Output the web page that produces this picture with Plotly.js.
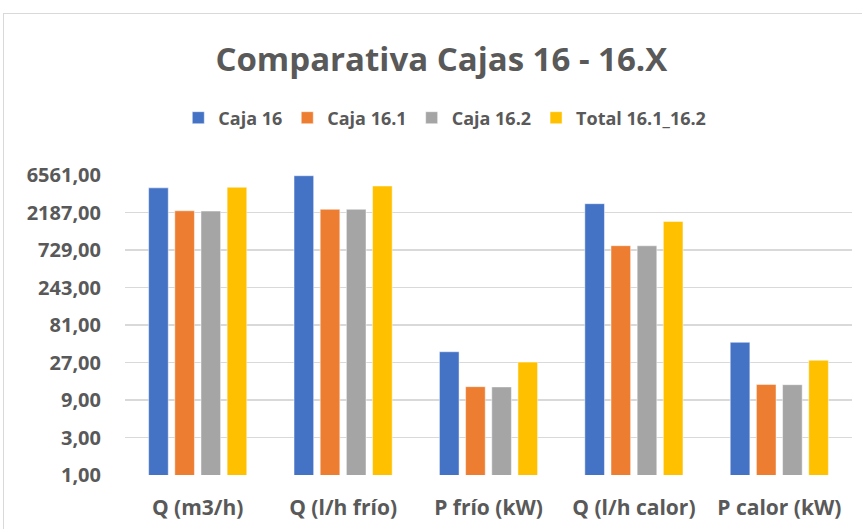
<!DOCTYPE html>
<html>
<head>
<meta charset="utf-8">
<script src="https://cdn.plot.ly/plotly-3.0.1.min.js"></script>
<style>
  html, body { margin: 0; padding: 0; background: #fff; }
  #frame { position: absolute; left: 3px; top: 13px; width: 900px; height: 600px; border: 1.5px solid #d9d9d9; }
  #chart { position: absolute; left: 0; top: 0; width: 862px; height: 529px; }
</style>
</head>
<body>
<div id="frame"></div>
<div id="chart"></div>
<script>
const categories = ["Q (m3/h)", "Q (l/h frío)", "P frío (kW)", "Q (l/h calor)", "P calor (kW)"];
const caja16   = [4500, 6420, 37.0, 2830, 48.8];
const caja161  = [2300, 2400, 13.3, 827, 14.2];
const caja162  = [2280, 2400, 13.2, 825, 14.1];
const total    = [4580, 4750, 27.3, 1680, 28.8];
const seriesNames = ["Caja 16", "Caja 16.1", "Caja 16.2", "Total 16.1_16.2"];
const colors = ["#4472C4", "#ED7D31", "#A5A5A5", "#FFC000"];
const tickVals = [1, 3, 9, 27, 81, 243, 729, 2187, 6561];
const tickText = ["1,00", "3,00", "9,00", "27,00", "81,00", "243,00", "729,00", "2187,00", "6561,00"];

const FONT = "'Open Sans', Lato, sans-serif";
const series = [caja16, caja161, caja162, total];
const data = series.map((vals, i) => ({
  type: "bar",
  name: seriesNames[i],
  x: categories,
  y: vals,
  marker: { color: colors[i], line: { color: "rgba(255,255,255,0.6)", width: 0.8 } },
  hoverinfo: "skip"
}));

const layout = {
  width: 862, height: 529,
  paper_bgcolor: "rgba(0,0,0,0)",
  plot_bgcolor: "rgba(0,0,0,0)",
  margin: { l: 125, r: 10, t: 175, b: 54 },
  barmode: "group",
  bargap: 0.28,
  bargroupgap: 0.25,
  font: { family: FONT, color: "#595959" },
  title: {
    text: "<b>Comparativa Cajas 16 - 16.X</b>",
    font: { family: FONT, size: 33, color: "#595959" },
    x: 0.512, xanchor: "center",
    y: 1 - 59 / 529, yanchor: "middle", yref: "container"
  },
  legend: {
    orientation: "h",
    x: 0.516, xanchor: "center", xref: "container",
    y: 1 - 118 / 529, yanchor: "middle", yref: "container",
    font: { family: FONT, size: 18, color: "#595959", weight: "bold" },
    itemwidth: 30,
    traceorder: "normal"
  },
  xaxis: {
    type: "category",
    showgrid: false,
    showline: false,
    zeroline: false,
    ticks: "",
    ticklabelstandoff: 18,
    tickfont: { family: FONT, size: 21, color: "#595959", weight: "bold" }
  },
  yaxis: {
    type: "log",
    range: [0, Math.log10(6561)],
    tickvals: tickVals,
    ticktext: tickText,
    showgrid: true,
    gridcolor: "#d9d9d9",
    gridwidth: 1.5,
    showline: false,
    zeroline: false,
    ticks: "",
    ticklabelstandoff: 23,
    tickfont: { family: FONT, size: 20, color: "#595959", weight: "bold" }
  },
  showlegend: true
};

Plotly.newPlot("chart", data, layout, { displayModeBar: false, staticPlot: true });
</script>
</body>
</html>
